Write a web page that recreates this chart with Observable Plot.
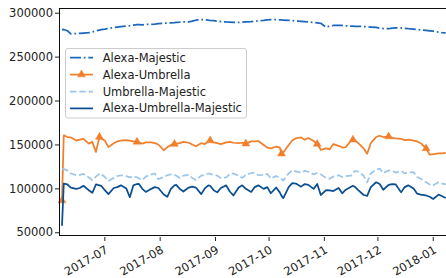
<!DOCTYPE html>
<html>
<head>
<meta charset="utf-8">
<script src="https://cdn.jsdelivr.net/npm/d3@7"></script>
<script src="https://cdn.jsdelivr.net/npm/@observablehq/plot@0.6"></script>
<style>
  html, body { margin: 0; padding: 0; background: #fff; }
  #chart svg { display: block; }
</style>
</head>
<body>
<div id="chart"></div>
<script>
const dates = [
  "2017-06-07","2017-06-08","2017-06-10","2017-06-12","2017-06-15","2017-06-17","2017-06-19","2017-06-22","2017-06-24","2017-06-26",
  "2017-06-28","2017-06-29","2017-07-01","2017-07-03","2017-07-06","2017-07-08","2017-07-10","2017-07-13","2017-07-15","2017-07-17",
  "2017-07-19","2017-07-20","2017-07-22","2017-07-24","2017-07-27","2017-07-29","2017-07-31","2017-08-03","2017-08-05","2017-08-07",
  "2017-08-09","2017-08-10","2017-08-12","2017-08-14","2017-08-17","2017-08-19","2017-08-21","2017-08-24","2017-08-26","2017-08-28",
  "2017-08-29","2017-08-31","2017-09-02","2017-09-04","2017-09-07","2017-09-09","2017-09-11","2017-09-14","2017-09-16","2017-09-18",
  "2017-09-21","2017-09-23","2017-09-25","2017-09-28","2017-09-30","2017-10-02","2017-10-05","2017-10-07","2017-10-08","2017-10-09",
  "2017-10-12","2017-10-14","2017-10-16","2017-10-19","2017-10-21","2017-10-23","2017-10-26","2017-10-28","2017-10-30","2017-11-02",
  "2017-11-04","2017-11-06","2017-11-09","2017-11-11","2017-11-13","2017-11-16","2017-11-17","2017-11-18","2017-11-20","2017-11-23",
  "2017-11-25","2017-11-27","2017-11-30","2017-12-02","2017-12-04","2017-12-07","2017-12-09","2017-12-11","2017-12-14","2017-12-16",
  "2017-12-18","2017-12-21","2017-12-23","2017-12-25","2017-12-28","2017-12-30","2018-01-01","2018-01-04","2018-01-06","2018-01-08"
];

const alexaMajestic = [
  281000,281500,280000,276500,276800,277000,277300,277800,278500,280000,
  280800,281200,281800,282500,283600,284200,284700,285300,285800,286400,
  286900,287000,286800,287200,287300,287500,288000,288500,288700,289000,
  289300,289500,289700,290000,290200,291000,292000,292800,292500,292000,
  291800,291500,291000,290500,290000,289800,289600,289500,289700,290000,
  290300,290800,291200,291800,292300,292700,292800,292500,292300,292200,
  291800,291500,291000,290800,290400,290000,289500,289000,288500,284000,
  285500,286000,286200,286000,285700,285300,285200,285000,285000,284800,
  284500,284200,283800,283000,282500,282300,283000,283400,283200,282600,
  282300,282000,281500,281000,280500,280000,279500,278500,277800,277500
];

const alexaUmbrella = [
  86700,161000,159000,158500,155000,156000,157000,151500,153500,142000,
  159000,157000,155000,147500,152000,154000,155000,155500,155000,154000,
  153500,153000,151500,153000,153000,152000,150500,144000,147500,150000,
  151000,151500,152000,153500,152500,150500,148500,152000,151000,154000,
  155000,153000,152000,151000,153000,153500,152500,152000,152500,151500,
  154000,154000,154500,150000,147000,146000,148000,147000,140000,141500,
  150000,155000,157500,158500,156000,158000,154500,151000,144500,146000,
  145000,151000,149000,147000,147500,155000,156000,155500,152000,146000,
  140000,152000,159000,160500,159000,159500,158000,157500,157000,155500,
  156000,155000,154000,152000,146000,139000,139500,140500,140500,141000
];

const umbrellaMajestic = [
  123000,122500,121000,117500,115500,116000,117000,113000,110000,114000,
  117500,117000,113500,109000,112500,114500,115500,114500,113000,114000,
  113000,112000,110000,114000,116500,117500,111000,113500,115500,116500,
  116000,115000,112500,115000,116000,112500,110000,115000,116000,117500,
  117000,116000,115000,112500,113000,117000,117500,115000,112500,116000,
  118000,118500,115500,116000,117000,112000,114500,113000,111000,109500,
  117500,121000,120000,118500,120500,119500,116500,118000,116500,112500,
  111500,114000,115500,113500,114500,115000,117000,120500,119500,115000,
  107500,117500,122000,123000,118000,121000,120500,118500,120500,117500,
  118500,119000,113500,111500,107500,105000,104000,107500,106000,105000
];

const alexaUmbrellaMajestic = [
  58000,106000,105000,101500,100000,101000,103500,98500,95500,105000,
  104000,103500,98500,94000,101000,102000,104000,100500,90500,104000,
  105500,105800,100000,96500,100000,102000,101000,93500,91000,100000,
  104000,104500,100000,97000,101500,102500,101500,94000,100500,104000,
  103500,98500,96000,101000,104000,97000,92500,101500,104000,100000,
  96500,102000,104000,100000,102000,95000,101500,96000,92000,89500,
  102000,106500,106000,102500,105500,104500,100000,105500,93000,98500,
  98200,97500,101000,95000,99000,102500,103500,102500,98500,93000,
  92000,102000,107500,105500,99000,104500,105500,105000,96000,102000,
  104000,100500,94500,93500,92500,91000,88500,93500,91500,89500
];

const umbrellaMarkerDates = [
  "2017-06-07","2017-06-28","2017-07-19","2017-08-09","2017-08-29","2017-09-18",
  "2017-10-08","2017-10-28","2017-11-17","2017-12-07","2017-12-28"
];

const seriesNames = ["Alexa-Majestic", "Alexa-Umbrella", "Umbrella-Majestic", "Alexa-Umbrella-Majestic"];
const seriesColors = ["#1b67c0", "#f07f2b", "#9dc6ec", "#0b4f90"];
const seriesDashes = ["11,2.8,1.7,2.8", null, "6.5,2.8", null];
const seriesValues = [alexaMajestic, alexaUmbrella, umbrellaMajestic, alexaUmbrellaMajestic];

const xTickLabels = ["2017-07-01","2017-08-01","2017-09-01","2017-10-01","2017-11-01","2017-12-01","2018-01-01"];
const yTickValues = [50000, 100000, 150000, 200000, 250000, 300000];

const parse = d3.utcParse("%Y-%m-%d");
const xDomain = [new Date("2017-06-05T14:24:00Z"), new Date("2018-01-08T10:19:00Z")];
const yDomain = [46900, 305350];

const tables = seriesValues.map((vals, s) =>
  dates.map((d, i) => ({key: d, date: parse(d), value: vals[i], series: seriesNames[s]}))
);
const markerRows = tables[1].filter(r => umbrellaMarkerDates.includes(r.key));

const LW = 1.75;
const lineMarks = tables.map((rows, s) =>
  Plot.line(rows, {
    x: "date", y: "value",
    stroke: seriesColors[s], strokeWidth: LW,
    strokeDasharray: seriesDashes[s] || undefined,
    strokeLinejoin: "round", strokeLinecap: "butt"
  })
);

const chart = Plot.plot({
  width: 446,
  height: 278,
  marginLeft: 59,
  marginRight: 0,
  marginTop: 8,
  marginBottom: 43,
  style: {fontFamily: "DejaVu Sans", fontSize: "11.5px", color: "#222", background: "#fff"},
  x: {type: "utc", domain: xDomain},
  y: {domain: yDomain},
  marks: [
    Plot.axisY({ticks: yTickValues, tickSize: 4, tickPadding: 2.5, tickFormat: d => String(d), label: null, fontSize: 11.5}),
    Plot.axisX({ticks: xTickLabels.map(parse), tickSize: 4, tickPadding: 3.5, tickRotate: -30,
      textAnchor: "end", lineAnchor: "top", dy: 2, dx: 0,
      tickFormat: d3.utcFormat("%Y-%m"), label: null, fontSize: 11.5}),
    ...lineMarks.slice(0, 2),
    Plot.dot(markerRows, {x: "date", y: "value", symbol: "triangle", r: 2.9, fill: seriesColors[1], stroke: seriesColors[1], strokeWidth: 0.5}),
    ...lineMarks.slice(2),
    Plot.ruleX([xDomain[0]], {stroke: "#000", strokeWidth: 0.95}),
    Plot.ruleY([yDomain[0], yDomain[1]], {stroke: "#000", strokeWidth: 0.95})
  ]
});

// legend inside the axes, upper-left
const svg = d3.select(chart);
const lg = svg.append("g")
  .attr("font-family", "DejaVu Sans").attr("font-size", 11.5)
  .attr("fill", "#222").attr("text-anchor", "start");
lg.append("rect")
  .attr("x", 65.5).attr("y", 48.5).attr("width", 181).attr("height", 69.5).attr("rx", 2.5)
  .attr("fill", "#fff").attr("fill-opacity", 0.8).attr("stroke", "#cccccc").attr("stroke-width", 1);
const rowY = [57.7, 74.6, 91.5, 108.4];
seriesNames.forEach((name, i) => {
  lg.append("line")
    .attr("x1", 70).attr("x2", 93).attr("y1", rowY[i]).attr("y2", rowY[i])
    .attr("stroke", seriesColors[i]).attr("stroke-width", LW)
    .attr("stroke-dasharray", seriesDashes[i] || null);
  if (i === 1) {
    lg.append("path")
      .attr("transform", `translate(81.5,${rowY[i]})`)
      .attr("d", d3.symbol(d3.symbolTriangle, Math.PI * 2.9 * 2.9)())
      .attr("fill", seriesColors[i]).attr("stroke", seriesColors[i]).attr("stroke-width", 0.5);
  }
  lg.append("text").attr("x", 102.7).attr("y", rowY[i]).attr("dy", "0.35em").text(name);
});

document.getElementById("chart").appendChild(chart);
</script>
</body>
</html>
